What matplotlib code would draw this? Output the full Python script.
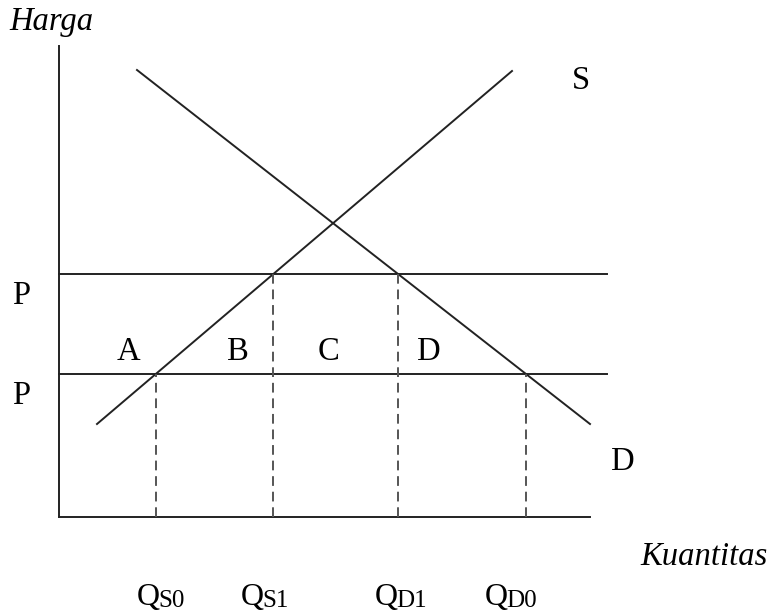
"""Diagram kuota/harga: kurva penawaran S dan permintaan D dengan dua tingkat harga."""
import matplotlib
matplotlib.use("Agg")
import matplotlib.pyplot as plt
import numpy as np

plt.rcParams.update({
    "font.family": ["Liberation Serif", "DejaVu Serif"],
    "font.size": 23.5,
})

# kurva (titik ujung, satuan diagram)
supply_x = [0.76, 9.06]
supply_y = [1.86, 8.92]
demand_x = [1.56, 10.62]
demand_y = [8.94, 1.86]

# dua tingkat harga (atas = P1, bawah = P0)
price_levels = [4.86, 2.86]
price_labels = ["P", "P"]

# batas sumbu
x_axis_end = 10.62
y_axis_end = 9.42
price_line_end = 10.96

area_labels = ["A", "B", "C", "D"]
q_main = ["Q", "Q", "Q", "Q"]
q_sub = ["S0", "S1", "D1", "D0"]

# posisi teks (layout)
area_x = [1.16, 3.36, 5.18, 7.16]
area_y = 3.14
q_label_x = [1.56, 3.64, 6.32, 8.52]
q_label_y = -1.76


def x_at(xs, ys, y):
    # posisi x pada garis lurus untuk harga y
    slope = (ys[1] - ys[0]) / (xs[1] - xs[0])
    return xs[0] + (y - ys[0]) / slope


fig = plt.figure(figsize=(7.71, 6.13), dpi=100)
ax = fig.add_axes([0, 0, 1, 1])
ax.set_xlim(-1.18, 14.24)
ax.set_ylim(-1.92, 10.34)
ax.axis("off")

lw = 1.4
# sumbu
ax.plot([0, 0], [0, y_axis_end], color="#222222", lw=lw)
ax.plot([0, x_axis_end], [0, 0], color="#222222", lw=lw)

# S dan D
ax.plot(supply_x, supply_y, color="#222222", lw=lw)
ax.plot(demand_x, demand_y, color="#222222", lw=lw)

# garis harga
for p in price_levels:
    ax.plot([0, price_line_end], [p, p], color="#222222", lw=lw)

# kuantitas pada tiap harga
p_hi, p_lo = price_levels
q_values = [
    x_at(supply_x, supply_y, p_lo),   # QS0
    x_at(supply_x, supply_y, p_hi),   # QS1
    x_at(demand_x, demand_y, p_hi),   # QD1
    x_at(demand_x, demand_y, p_lo),   # QD0
]
q_prices = [p_lo, p_hi, p_hi, p_lo]
for q, p in zip(q_values, q_prices):
    ax.plot([q, q], [0, p], color="#555555", lw=1.4, linestyle=(0, (5, 3)))

# teks
ax.text(-1.0, 9.74, "Harga", style="italic", fontsize=23.5, va="baseline")
ax.text(11.62, -0.96, "Kuantitas", style="italic", fontsize=23.5, va="baseline")
ax.text(10.26, 8.56, "S", va="baseline")
ax.text(11.04, 0.94, "D", va="baseline")

for p, lab in zip(price_levels, price_labels):
    ax.text(-0.94, p - 0.6, lab, va="baseline")

for x, lab in zip(area_x, area_labels):
    ax.text(x, area_y, lab, va="baseline")

for x, m, s in zip(q_label_x, q_main, q_sub):
    t = ax.text(x, q_label_y, m, va="baseline", fontsize=23)
    ax.annotate(s, xy=(1, 0), xycoords=t, xytext=(-1, 0), textcoords="offset points",
                fontsize=18, va="bottom", ha="left")

fig.savefig("out.png", dpi=100, facecolor="white")
